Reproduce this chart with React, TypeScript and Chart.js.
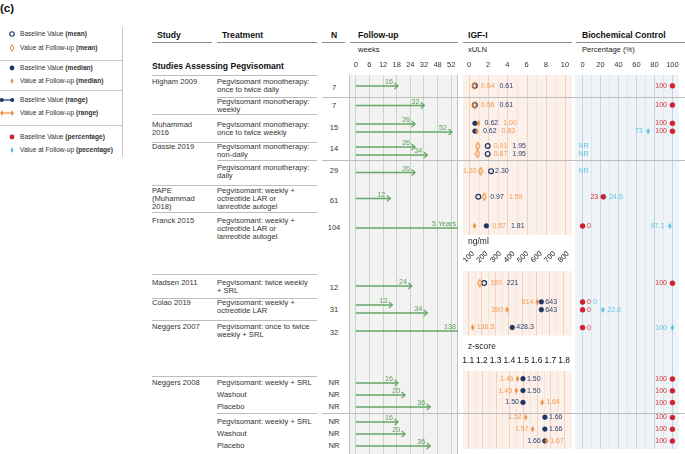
import React, { useEffect, useRef } from 'react';
import { Chart, registerables, LinearScale } from 'chart.js';

Chart.register(...registerables);

const FONT = '"Liberation Sans", Arial, Helvetica, sans-serif';
Chart.defaults.font.family = FONT;

// ================= DATA =================
const weekTickLabels = ['0', '6', '12', '18', '24', '32', '48', '52'];
const ulnTicks = [0, 2, 4, 6, 8, 10];
const ngTicks = [100, 200, 300, 400, 500, 600, 700, 800];
const zTicks = [1.1, 1.2, 1.3, 1.4, 1.5, 1.6, 1.7, 1.8];
const pctTicks = [0, 10, 20, 30, 40, 50, 60, 70, 80, 90, 100];

// one entry per plotted row (top to bottom)
const followUpWeeks = [16, 32, 26, 52, 26, 34, 26, 12, 260, 24, 13, 34, 138, 16, 20, 36, 16, 20, 36];
const followUpText = ['16', '32', '26', '52', '26', '34', '26', '12', '5 Years', '24', '13', '34', '138', '16', '20', '36', '16', '20', '36'];
const igfUnit = ['xULN', 'xULN', 'xULN', 'xULN', 'xULN', 'xULN', 'xULN', 'xULN', 'xULN', 'ng/ml', 'ng/ml', 'ng/ml', 'ng/ml', 'z-score', 'z-score', 'z-score', 'z-score', 'z-score', 'z-score'];
const igfStat = ['mean', 'mean', 'median', 'median', 'mean', 'mean', 'mean', 'mean', 'median', 'mean', 'median', 'median', 'median', 'median', 'median', 'median', 'median', 'median', 'median'];
const igfBaseline = [0.61, 0.61, 0.62, 0.62, 1.95, 1.95, 2.3, 0.97, 1.81, 221, 643, 643, 428.3, 1.5, 1.5, 1.5, 1.66, 1.66, 1.66];
const igfFollowUp = [0.54, 0.56, 1.0, 0.83, 0.91, 0.87, 1.2, 1.59, 0.57, 189, 614, 390, 136.5, 1.46, 1.45, 1.64, 1.52, 1.57, 1.67];
const controlBaseline: (number | null)[] = [100, 100, 100, 100, null, null, null, 23, 0, 100, 0, 0, 0, 100, 100, 100, 100, 100, 100];
const controlFollowUp: (number | string | null)[] = [null, null, null, 73, 'NR', 'NR', 'NR', 24.6, 97.1, null, 0, 22.6, 100, null, null, null, null, null, null];

// table text
const studyNames = [['Higham 2009'], ['Muhammad', '2016'], ['Dassie 2019'], ['PAPE', '(Muhammad', '2018)'], ['Franck 2015'], ['Madsen 2011'], ['Colao 2019'], ['Neggers 2007'], ['Neggers 2008']];
const treatments = [
  ['Pegvisomant monotherapy:', 'once to twice daily'],
  ['Pegvisomant monotherapy:', 'weekly'],
  ['Pegvisomant monotherapy:', 'once to twice weekly'],
  ['Pegvisomant monotherapy:', 'non-daily'],
  ['Pegvisomant monotherapy:', 'daily'],
  ['Pegvisomant: weekly +', 'octreotide LAR or', 'lanreotide autogel'],
  ['Pegvisomant: weekly +', 'octreotide LAR or', 'lanreotide autogel'],
  ['Pegvisomant: twice weekly', '+ SRL'],
  ['Pegvisomant: weekly +', 'octreotide LAR'],
  ['Pegvisomant: once to twice', 'weekly + SRL'],
  ['Pegvisomant: weekly + SRL'], ['Washout'], ['Placebo'],
  ['Pegvisomant: weekly + SRL'], ['Washout'], ['Placebo'],
];
const nValues = ['7', '7', '15', '14', '29', '61', '104', '12', '31', '32', 'NR', 'NR', 'NR', 'NR', 'NR', 'NR'];

// ================= LAYOUT =================
const studyTextY = [82, 125, 147, 191, 221, 283, 303, 327, 383];
const treatmentTextY = [82, 102, 125, 147, 168, 191, 221, 283, 303, 327, 383, 395, 407, 422, 434, 446];
const nTextY = [88, 106, 128, 149, 171, 201, 228, 288, 310, 333, 383, 395, 407, 422, 434, 446];
const slotHeights = [22, 17, 28, 18, 25, 27, 32, 30, 24, 22, 22, 35, 12, 12, 12, 3, 12, 12, 12, 2];
const rowSlot = [0, 1, 2, 2, 3, 3, 4, 5, 6, 8, 9, 9, 10, 12, 13, 14, 16, 17, 18];
const igfLabelMode = ['right', 'right', 'right', 'right', 'right', 'right', 'split', 'right', 'right', 'right', 'split', 'split', 'each', 'split', 'split', 'split', 'split', 'split', 'split'];

const totalH = slotHeights.reduce((a, b) => a + b, 0);
const slotTop: number[] = [];
{
  let acc = 0;
  for (const h of slotHeights) { slotTop.push(acc); acc += h; }
}
const rowY = rowSlot.map((s, i) => {
  const n = rowSlot.filter((v) => v === s).length;
  const k = rowSlot.slice(0, i).filter((v) => v === s).length;
  return slotTop[s] + slotHeights[s] / 2 + (k - (n - 1) / 2) * 8;
});

// ================= COLORS =================
const NAVY = '#1c3567';
const NAVY_T = '#2a3f6e';
const ORANGE = '#ef8a36';
const ORANGE_T = '#f29b52';
const RED = '#d1202e';
const RED_T = '#d42f3b';
const CYAN = '#4fc1e2';
const CYAN_T = '#5cc5e4';
const GREEN = '#64a664';
const GREEN_T = '#5a9d5a';
const RULE = '#bdbdbd';

// power scale for follow-up duration
class PowerScale extends LinearScale {
  static id = 'power';
  static defaults = { ...(LinearScale as any).defaults };
  tf(v: number) { return Math.sign(v) * Math.pow(Math.abs(v), 0.7); }
  getPixelForValue(value: number) {
    const a = this.tf((this as any).min), b = this.tf((this as any).max);
    return (this as any).getPixelForDecimal((this.tf(value) - a) / (b - a));
  }
  getValueForPixel(pixel: number) {
    const a = this.tf((this as any).min), b = this.tf((this as any).max);
    const t = a + (this as any).getDecimalForPixel(pixel) * (b - a);
    return Math.sign(t) * Math.pow(Math.abs(t), 1 / 0.7);
  }
}
Chart.register(PowerScale as any);

function topAxis(min: number, max: number, ticks: number[], label: (v: number) => string, gridColor?: (v: number) => string) {
  return {
    type: 'linear', position: 'top', min, max, bounds: 'data',
    afterBuildTicks: (s: any) => { s.ticks = ticks.map((v) => ({ value: v })); },
    afterFit: (s: any) => { s.height = 20; },
    ticks: { autoSkip: false, maxRotation: 0, minRotation: 0, padding: 6, color: '#333', font: { size: 7.5, family: FONT }, callback: (v: any) => label(Number(v)) },
    grid: gridColor
      ? { display: true, drawTicks: false, lineWidth: 1, color: (c: any) => gridColor(c.tick ? c.tick.value : 0) }
      : { display: false, drawTicks: false },
    border: { display: false },
  };
}
const yAxis = () => ({ type: 'linear', min: 0, max: totalH, reverse: true, display: false });

const baseOptions = (padL: number, padR: number) => ({
  responsive: false,
  animation: false,
  events: [],
  layout: { padding: { left: padL, right: padR, top: 0, bottom: 0 } },
  plugins: { legend: { display: false }, tooltip: { enabled: false } },
});

function makeDiamond(color: string, filled: boolean, w: number, h: number) {
  const c = document.createElement('canvas');
  c.width = w + 2; c.height = h + 2;
  const g = c.getContext('2d')!;
  const cx = c.width / 2, cy = c.height / 2;
  g.beginPath();
  g.moveTo(cx, cy - h / 2); g.lineTo(cx + w / 2, cy); g.lineTo(cx, cy + h / 2); g.lineTo(cx - w / 2, cy); g.closePath();
  if (filled) { g.fillStyle = color; g.fill(); } else { g.strokeStyle = color; g.lineWidth = 1.1; g.stroke(); }
  return c;
}

// ---------------- Follow-up chart ----------------
function followCfg(): any {
  const datasets = followUpWeeks.map((w, i) => ({
    type: 'scatter', xAxisID: 'xw', yAxisID: 'y',
    data: [{ x: 0, y: rowY[i] }, { x: w, y: rowY[i] }],
    showLine: true, borderColor: GREEN, borderWidth: 1.4, pointRadius: 0, fill: false,
  }));
  const bg = {
    id: 'fuBg',
    beforeDraw(chart: any) {
      const { ctx, chartArea: a } = chart;
      ctx.save();
      ctx.fillStyle = '#f2f2f2';
      ctx.fillRect(a.left, a.top, a.right - a.left, a.bottom - a.top);
      ctx.restore();
    },
    beforeDatasetsDraw(chart: any) {
      const { ctx, chartArea: a } = chart;
      ctx.save();
      ctx.strokeStyle = '#c2c2c2'; ctx.lineWidth = 1;
      ctx.beginPath();
      ctx.moveTo(a.left + 0.5, a.top); ctx.lineTo(a.left + 0.5, a.bottom);
      ctx.moveTo(a.right - 0.5, a.top); ctx.lineTo(a.right - 0.5, a.bottom);
      ctx.stroke();
      ctx.restore();
    },
  };
  const arrows = {
    id: 'arrows',
    afterDatasetsDraw(chart: any) {
      const { ctx, chartArea: a } = chart;
      ctx.save();
      ctx.strokeStyle = GREEN; ctx.fillStyle = GREEN_T; ctx.lineWidth = 1.2;
      ctx.font = `7.2px ${FONT}`; ctx.textAlign = 'right'; ctx.textBaseline = 'alphabetic';
      chart.data.datasets.forEach((_: any, i: number) => {
        const end = chart.getDatasetMeta(i).data[1];
        const x = end.x, y = end.y;
        let tx;
        if (x <= a.right) {
          ctx.beginPath(); ctx.moveTo(x - 3.5, y - 3); ctx.lineTo(x, y); ctx.lineTo(x - 3.5, y + 3); ctx.stroke();
          tx = x - 5;
        } else {
          tx = a.right - 2;
        }
        ctx.fillText(followUpText[i], tx, y - 2);
      });
      ctx.restore();
    },
  };
  return {
    type: 'scatter',
    data: { datasets },
    options: {
      ...baseOptions(9, 7),
      scales: {
        xt: topAxis(-0.5, weekTickLabels.length - 0.5, weekTickLabels.map((_, i) => i), (v) => weekTickLabels[v] ?? '', () => '#c9d5c9'),
        xw: { type: 'power', min: -1.2, max: 56.6, display: false },
        y: yAxis(),
      },
    },
    plugins: [bg, arrows],
  };
}

// ---------------- IGF-I chart ----------------
const unitAxis: Record<string, string> = { 'xULN': 'xu', 'ng/ml': 'xn', 'z-score': 'xz' };
const mids = (m: number[]) => m.slice(1).map((v, k) => (v + m[k]) / 2);

function igfSegments(chart: any) {
  const ys = chart.scales.y, a = chart.chartArea;
  const ysOf = (u: string) => rowY.filter((_, i) => igfUnit[i] === u).map((v) => ys.getPixelForValue(v));
  const A = ysOf('xULN'), B = ysOf('ng/ml'), C = ysOf('z-score');
  return [
    { axis: 'xu', top: a.top, bottom: Math.max(...A) + 9, major: ulnTicks, minor: mids(ulnTicks) },
    { axis: 'xn', top: Math.min(...B) - 12, bottom: Math.max(...B) + 8, major: ngTicks, minor: mids(ngTicks) },
    { axis: 'xz', top: Math.min(...C) - 8, bottom: a.bottom, major: zTicks, minor: mids(zTicks) },
  ];
}

function igfCfg(): any {
  const openD = makeDiamond(ORANGE, false, 4, 7);
  const fillD = makeDiamond(ORANGE, true, 3.4, 6.5);
  const datasets: any[] = [];
  for (const u of ['xULN', 'ng/ml', 'z-score']) {
    const idx = igfUnit.map((v, i) => (v === u ? i : -1)).filter((i) => i >= 0);
    datasets.push({
      type: 'scatter', xAxisID: unitAxis[u], yAxisID: 'y',
      data: idx.map((i) => ({ x: igfFollowUp[i], y: rowY[i] })),
      pointStyle: idx.map((i) => (igfStat[i] === 'mean' ? openD : fillD)),
      pointRadius: 3,
    });
    datasets.push({
      type: 'scatter', xAxisID: unitAxis[u], yAxisID: 'y',
      data: idx.map((i) => ({ x: igfBaseline[i], y: rowY[i] })),
      pointStyle: 'circle', pointRadius: 2.4,
      pointBackgroundColor: idx.map((i) => (igfStat[i] === 'mean' ? 'rgba(0,0,0,0)' : NAVY)),
      pointBorderColor: NAVY,
      pointBorderWidth: idx.map((i) => (igfStat[i] === 'mean' ? 1.2 : 0.5)),
    });
  }
  const decor = {
    id: 'igfDecor',
    beforeDraw(chart: any) {
      const { ctx, chartArea: a } = chart;
      const segs = igfSegments(chart);
      ctx.save();
      for (const s of segs) {
        ctx.fillStyle = '#fcf0ea';
        ctx.fillRect(a.left, s.top, a.right - a.left, s.bottom - s.top);
        const sc = chart.scales[s.axis];
        ctx.lineWidth = 1;
        ctx.strokeStyle = '#f8e3d8';
        ctx.beginPath();
        for (const v of s.minor) { const x = Math.round(sc.getPixelForValue(v)) + 0.5; ctx.moveTo(x, s.top); ctx.lineTo(x, s.bottom); }
        ctx.stroke();
        ctx.strokeStyle = '#f4d0bd';
        ctx.beginPath();
        for (const v of s.major) { const x = Math.round(sc.getPixelForValue(v)) + 0.5; ctx.moveTo(x, s.top); ctx.lineTo(x, s.bottom); }
        ctx.stroke();
      }
      ctx.restore();
    },
    afterDatasetsDraw(chart: any) {
      const { ctx, chartArea: a } = chart;
      const ys = chart.scales.y;
      const segs = igfSegments(chart);
      ctx.save();
      // axis annotations for ng/ml and z-score sections
      ctx.fillStyle = '#222'; ctx.font = `8.5px ${FONT}`; ctx.textAlign = 'left'; ctx.textBaseline = 'middle';
      ctx.fillText('ng/ml', a.left + 5, segs[0].bottom + 7);
      ctx.fillText('z-score', a.left + 5, segs[1].bottom + 11);
      ctx.font = `7.5px ${FONT}`; ctx.textAlign = 'center';
      const xn = chart.scales.xn, xz = chart.scales.xz;
      for (const v of ngTicks) {
        ctx.save();
        ctx.translate(xn.getPixelForValue(v) + 1, segs[1].top - 14);
        ctx.rotate(-Math.PI / 4);
        ctx.fillText(String(v), 0, 0);
        ctx.restore();
      }
      ctx.fillStyle = '#111'; ctx.font = `8.5px ${FONT}`;
      for (const v of zTicks) ctx.fillText(v.toFixed(1), xz.getPixelForValue(v), segs[2].top - 10);

      // value labels
      ctx.font = `7px ${FONT}`; ctx.textBaseline = 'middle';
      igfUnit.forEach((u, i) => {
        const sc = chart.scales[unitAxis[u]];
        const y = ys.getPixelForValue(rowY[i]);
        const fmt = (v: number) => (u === 'ng/ml' ? String(v) : v.toFixed(2));
        const items = [
          { v: igfBaseline[i], col: NAVY_T },
          { v: igfFollowUp[i], col: ORANGE_T },
        ].map((o) => ({ ...o, px: sc.getPixelForValue(o.v), t: fmt(o.v) })).sort((p, q) => p.v - q.v);
        const mode = igfLabelMode[i];
        if (mode === 'right') {
          let x = Math.max(items[0].px, items[1].px) + 6;
          for (const it of items) {
            ctx.fillStyle = it.col; ctx.textAlign = 'left'; ctx.fillText(it.t, x, y);
            x += ctx.measureText(it.t).width + 5;
          }
        } else if (mode === 'split') {
          ctx.fillStyle = items[0].col; ctx.textAlign = 'right'; ctx.fillText(items[0].t, items[0].px - 4, y);
          ctx.fillStyle = items[1].col; ctx.textAlign = 'left'; ctx.fillText(items[1].t, items[1].px + 4, y);
        } else {
          for (const it of items) { ctx.fillStyle = it.col; ctx.textAlign = 'left'; ctx.fillText(it.t, it.px + 4, y); }
        }
      });
      ctx.restore();
    },
  };
  return {
    type: 'scatter',
    data: { datasets },
    options: {
      ...baseOptions(8, 8),
      scales: {
        xu: topAxis(-0.625, 10.73, ulnTicks, (v) => String(v)),
        xn: { type: 'linear', min: 65, max: 869, display: false },
        xz: { type: 'linear', min: 1.062, max: 1.858, display: false },
        y: yAxis(),
      },
    },
    plugins: [decor],
  };
}

// ---------------- Biochemical control chart ----------------
function ctrlCfg(): any {
  const cyanD = makeDiamond(CYAN, true, 3.4, 6.5);
  const bl = controlBaseline.map((v, i) => (typeof v === 'number' ? i : -1)).filter((i) => i >= 0);
  const fu = controlFollowUp.map((v, i) => (typeof v === 'number' ? i : -1)).filter((i) => i >= 0);
  const datasets = [
    {
      type: 'scatter', xAxisID: 'x', yAxisID: 'y',
      data: bl.map((i) => ({ x: controlBaseline[i] as number, y: rowY[i] })),
      pointStyle: 'circle', pointRadius: 2.5, pointBackgroundColor: RED, pointBorderColor: RED, pointBorderWidth: 0.5,
    },
    {
      type: 'scatter', xAxisID: 'x', yAxisID: 'y',
      data: fu.map((i) => ({ x: controlFollowUp[i] as number, y: rowY[i] })),
      pointStyle: cyanD, pointRadius: 3,
    },
  ];
  const decor = {
    id: 'ctrlDecor',
    beforeDraw(chart: any) {
      const { ctx, chartArea: a } = chart;
      ctx.save();
      ctx.fillStyle = '#eff3f6';
      ctx.fillRect(a.left, a.top, a.right - a.left, a.bottom - a.top);
      ctx.restore();
    },
    afterDatasetsDraw(chart: any) {
      const { ctx } = chart;
      const xs = chart.scales.x, ys = chart.scales.y;
      ctx.save();
      ctx.font = `7px ${FONT}`; ctx.textBaseline = 'middle';
      controlBaseline.forEach((b, i) => {
        const y = ys.getPixelForValue(rowY[i]);
        const f = controlFollowUp[i];
        if (f === 'NR') {
          ctx.fillStyle = CYAN_T; ctx.textAlign = 'left';
          ctx.fillText('NR', xs.getPixelForValue(0) - 4, y);
        }
        const pts: { v: number; col: string }[] = [];
        if (typeof b === 'number') pts.push({ v: b, col: RED_T });
        if (typeof f === 'number') pts.push({ v: f, col: CYAN_T });
        if (pts.length === 2 && pts[0].v === pts[1].v) {
          let x = xs.getPixelForValue(pts[0].v) + 4.5;
          for (const p of pts) {
            ctx.fillStyle = p.col; ctx.textAlign = 'left'; ctx.fillText(String(p.v), x, y);
            x += ctx.measureText(String(p.v)).width + 2;
          }
        } else if (pts.length === 2 && Math.abs(pts[0].v - pts[1].v) < 10) {
          const s = [...pts].sort((p, q) => p.v - q.v);
          ctx.fillStyle = s[0].col; ctx.textAlign = 'right'; ctx.fillText(String(s[0].v), xs.getPixelForValue(s[0].v) - 5, y);
          ctx.fillStyle = s[1].col; ctx.textAlign = 'left'; ctx.fillText(String(s[1].v), xs.getPixelForValue(s[1].v) + 4.5, y);
        } else {
          for (const p of pts) {
            ctx.fillStyle = p.col;
            if (p.v >= 50) { ctx.textAlign = 'right'; ctx.fillText(String(p.v), xs.getPixelForValue(p.v) - 5.5, y); }
            else { ctx.textAlign = 'left'; ctx.fillText(String(p.v), xs.getPixelForValue(p.v) + 4.5, y); }
          }
        }
      });
      ctx.restore();
    },
  };
  return {
    type: 'scatter',
    data: { datasets },
    options: {
      ...baseOptions(5, 0),
      scales: {
        x: topAxis(-8.42, 107.37, pctTicks, (v) => (v % 20 === 0 ? String(v) : ''), (v) => (v % 20 === 0 ? '#bcd9eb' : '#d8e8f2')),
        y: yAxis(),
      },
    },
    plugins: [decor],
  };
}

// ================= HTML helpers =================
function Txt({ x, y, lines, size = 7.6, bold = false, color = '#333', center = false, lh = 8 }: any) {
  return (
    <div
      style={{
        position: 'absolute', left: center ? x - 20 : x, top: y - lh / 2, width: center ? 40 : undefined,
        textAlign: center ? 'center' : 'left', fontSize: size, fontWeight: bold ? 700 : 400, color,
        lineHeight: `${lh}px`, whiteSpace: 'nowrap',
      }}
    >
      {lines.map((l: any, k: number) => <div key={k}>{l}</div>)}
    </div>
  );
}

function HLine({ y, x1, x2, color = RULE }: any) {
  return <div style={{ position: 'absolute', left: x1, top: y, width: x2 - x1, height: 1, background: color }} />;
}

function Glyph({ kind, y }: { kind: string; y: number }) {
  const d = (cx: number, w: number, h: number) => `${cx},${5 - h / 2} ${cx + w / 2},5 ${cx},${5 + h / 2} ${cx - w / 2},5`;
  let inner: any = null;
  if (kind === 'openCircle') inner = <circle cx={12} cy={5} r={2.2} fill="none" stroke={NAVY} strokeWidth={1.1} />;
  if (kind === 'openDiamond') inner = <polygon points={d(12, 3.6, 6.5)} fill="none" stroke={ORANGE} strokeWidth={1} />;
  if (kind === 'filledCircle') inner = <circle cx={12} cy={5} r={2.4} fill={NAVY} />;
  if (kind === 'filledDiamond') inner = <polygon points={d(12, 3, 6)} fill={ORANGE} />;
  if (kind === 'navyRange') inner = (
    <g>
      <line x1={1.5} y1={5} x2={12.5} y2={5} stroke={NAVY} strokeWidth={1.2} />
      <circle cx={1.8} cy={5} r={2} fill={NAVY} />
      <circle cx={12.2} cy={5} r={2} fill={NAVY} />
    </g>
  );
  if (kind === 'orangeRange') inner = (
    <g>
      <line x1={1.5} y1={5} x2={12.5} y2={5} stroke={ORANGE} strokeWidth={1.2} />
      <polygon points={d(1.8, 3, 6)} fill={ORANGE} />
      <polygon points={d(12.2, 3, 6)} fill={ORANGE} />
    </g>
  );
  if (kind === 'redCircle') inner = <circle cx={12} cy={5} r={2.4} fill={RED} />;
  if (kind === 'cyanDiamond') inner = <polygon points={d(12, 3, 6)} fill={CYAN} />;
  return (
    <svg style={{ position: 'absolute', left: 0, top: y - 5 }} width={18} height={10}>
      {inner}
    </svg>
  );
}

const legendItems: [number, string, string, string][] = [
  [34, 'openCircle', 'Baseline Value ', '(mean)'],
  [48, 'openDiamond', 'Value at Follow-up ', '(mean)'],
  [68, 'filledCircle', 'Baseline Value ', '(median)'],
  [81, 'filledDiamond', 'Value at Follow-up ', '(median)'],
  [100, 'navyRange', 'Baseline Value ', '(range)'],
  [113, 'orangeRange', 'Value at Follow-up ', '(range)'],
  [137, 'redCircle', 'Baseline Value ', '(percentage)'],
  [150, 'cyanDiamond', 'Value at Follow-up ', '(pecentage)'],
];

const tableRules: [number, number, number][] = [
  [75, 152, 317], [97, 217, 317], [97, 322, 685], [114, 152, 317], [142, 152, 317],
  [160, 217, 317], [160, 322, 685], [185, 152, 317], [212, 152, 317], [274, 152, 317],
  [298, 152, 317], [320, 152, 317], [376, 152, 317], [413, 217, 317], [413, 322, 685],
];
const headerRules: [number, number][] = [[152, 212], [217, 317], [322, 345], [350, 458], [463, 572], [576, 685]];

export default function App() {
  const fRef = useRef<HTMLCanvasElement>(null);
  const iRef = useRef<HTMLCanvasElement>(null);
  const bRef = useRef<HTMLCanvasElement>(null);

  useEffect(() => {
    const charts = [
      new Chart(fRef.current!, followCfg()),
      new Chart(iRef.current!, igfCfg()),
      new Chart(bRef.current!, ctrlCfg()),
    ];
    return () => charts.forEach((c) => c.destroy());
  }, []);

  const canvasStyle = (left: number, width: number): any => ({ position: 'absolute', left, top: 55, width, height: 399 });

  return (
    <div style={{ position: 'fixed', left: 0, top: 0, width: 685, height: 454, background: '#fff', overflow: 'hidden', fontFamily: FONT }}>
      <Txt x={0} y={8} lines={['(c)']} size={11.5} bold color="#111" lh={12} />

      {/* legend */}
      {legendItems.map(([y, kind, normal, bold], k) => (
        <React.Fragment key={k}>
          <Glyph kind={kind} y={y} />
          <Txt x={20} y={y} size={6.6} lines={[<span>{normal}<b>{bold}</b></span>]} />
        </React.Fragment>
      ))}
      {[60, 90, 125].map((y) => <HLine key={y} y={y} x1={0} x2={122} color="#c6c6c6" />)}
      <div style={{ position: 'absolute', left: 122, top: 27, width: 1, height: 130, background: '#c6c6c6' }} />

      {/* headers */}
      <Txt x={157} y={35} lines={['Study']} size={8.6} bold color="#111" lh={10} />
      <Txt x={222} y={35} lines={['Treatment']} size={8.6} bold color="#111" lh={10} />
      <Txt x={331} y={35} lines={['N']} size={8.6} bold color="#111" lh={10} />
      <Txt x={358} y={35} lines={['Follow-up']} size={8.6} bold color="#111" lh={10} />
      <Txt x={468} y={35} lines={['IGF-I']} size={8.6} bold color="#111" lh={10} />
      <Txt x={582} y={35} lines={['Biochemical Control']} size={8.6} bold color="#111" lh={10} />
      {headerRules.map(([x1, x2], k) => <HLine key={k} y={42} x1={x1} x2={x2} color="#8c8c8c" />)}
      <Txt x={358} y={50} lines={['weeks']} size={7.6} color="#222" />
      <Txt x={468} y={50} lines={['xULN']} size={7.6} color="#222" />
      <Txt x={582} y={50} lines={['Percentage (%)']} size={7.6} color="#222" />
      <Txt x={152} y={66} lines={['Studies Assessing Pegvisomant']} size={8.6} bold color="#111" lh={10} />

      {/* table body */}
      {studyNames.map((l, k) => <Txt key={'s' + k} x={152} y={studyTextY[k]} lines={l} />)}
      {treatments.map((l, k) => <Txt key={'t' + k} x={217} y={treatmentTextY[k]} lines={l} />)}
      {nValues.map((v, k) => <Txt key={'n' + k} x={334} y={nTextY[k]} lines={[v]} center />)}

      <canvas ref={fRef} width={125} height={399} style={canvasStyle(340, 125)} />
      <canvas ref={iRef} width={125} height={399} style={canvasStyle(455, 125)} />
      <canvas ref={bRef} width={115} height={399} style={canvasStyle(570, 115)} />

      {tableRules.map(([y, x1, x2], k) => <HLine key={'r' + k} y={y} x1={x1} x2={x2} />)}
    </div>
  );
}
